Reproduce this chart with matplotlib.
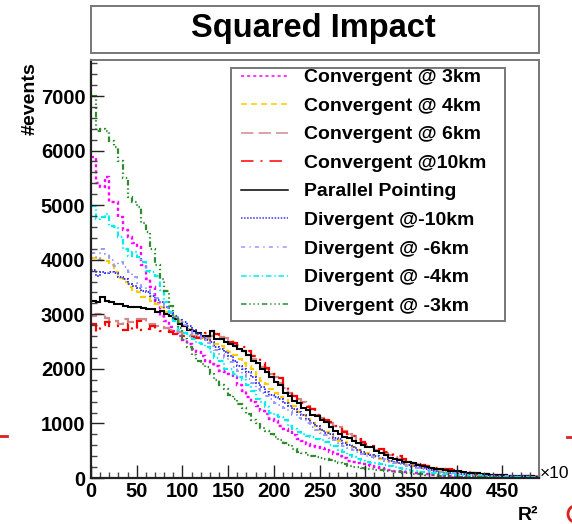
import matplotlib
matplotlib.use("Agg")
import matplotlib.pyplot as plt
import numpy as np
from matplotlib.patches import Rectangle, Arc
from matplotlib.lines import Line2D
from matplotlib.ticker import MultipleLocator

plt.rcParams['font.family'] = ['Liberation Sans', 'DejaVu Sans']
plt.rcParams['font.weight'] = 'bold'
plt.rcParams['lines.scale_dashes'] = False

# binning of R^2 (5 units per bin)
bin_edges = np.arange(0, 491, 5)

labels = ["Convergent @ 3km", "Convergent @ 4km", "Convergent @ 6km",
          "Convergent @10km", "Parallel Pointing", "Divergent @-10km",
          "Divergent @ -6km", "Divergent @ -4km", "Divergent @ -3km"]

conv_3km = [5890, 5400, 5340, 5520, 5060, 5050, 4790, 4550, 4420, 4300,
            4240, 3900, 3650, 3500, 3200, 2960, 2870, 2760, 2700, 2600,
            2520, 2450, 2370, 2300, 2230, 2140, 2090, 2050, 1960, 1940,
            1900, 1850, 1700, 1600, 1480, 1400, 1320, 1230, 1170, 1090,
            1050, 960, 900, 840, 790, 720, 680, 630, 590, 570,
            550, 530, 480, 440, 400, 360, 320, 300, 280, 260,
            240, 220, 200, 180, 165, 150, 135, 125, 115, 105,
            95, 88, 78, 70, 60, 50, 42, 36, 30, 26,
            22, 19, 17, 15, 13, 12, 11, 10, 9, 8,
            8, 7, 6, 6, 5, 5, 4, 4]

conv_4km = [4040, 4050, 4000, 3970, 3900, 3780, 3670, 3600, 3500, 3420,
            3400, 3310, 3300, 3250, 3180, 3130, 3050, 3000, 2900, 2850,
            2790, 2730, 2680, 2620, 2560, 2540, 2490, 2450, 2410, 2330,
            2300, 2250, 2180, 2100, 2050, 1990, 1860, 1780, 1720, 1630,
            1560, 1480, 1430, 1380, 1320, 1210, 1150, 1080, 1000, 950,
            880, 840, 780, 710, 680, 660, 610, 560, 510, 490,
            450, 420, 380, 350, 330, 310, 290, 270, 250, 240,
            225, 210, 185, 165, 145, 130, 120, 110, 100, 90,
            82, 75, 70, 62, 55, 50, 46, 42, 38, 35,
            32, 30, 28, 26, 24, 22, 20, 18]

conv_6km = [2960, 3000, 3000, 2940, 2860, 2870, 2820, 2910, 2850, 2850,
            2910, 2910, 2820, 2820, 2780, 2780, 2750, 2720, 2700, 2680,
            2650, 2620, 2600, 2580, 2560, 2560, 2600, 2600, 2580, 2560,
            2520, 2450, 2380, 2320, 2250, 2180, 2100, 2030, 1990, 1900,
            1860, 1750, 1650, 1560, 1500, 1450, 1400, 1320, 1260, 1150,
            1100, 1080, 1000, 950, 930, 870, 800, 770, 700, 640,
            585, 560, 520, 490, 450, 420, 380, 350, 330, 300,
            260, 250, 230, 210, 190, 170, 165, 150, 140, 125,
            115, 110, 105, 95, 85, 78, 70, 62, 55, 50,
            48, 45, 42, 40, 38, 36, 35, 33]

conv_10km = [2820, 2680, 2800, 2850, 2780, 2780, 2780, 2720, 2820, 2720,
             2870, 2720, 2730, 2780, 2720, 2700, 2690, 2670, 2640, 2630,
             2600, 2580, 2580, 2570, 2560, 2650, 2690, 2640, 2600, 2550,
             2500, 2480, 2430, 2400, 2330, 2230, 2200, 2100, 2020, 1960,
             1900, 1830, 1700, 1580, 1500, 1450, 1380, 1300, 1260, 1150,
             1080, 1060, 1020, 960, 900, 850, 800, 770, 720, 660,
             620, 580, 550, 530, 480, 450, 420, 400, 350, 310,
             280, 260, 240, 220, 200, 190, 180, 170, 165, 150,
             130, 110, 100, 90, 82, 75, 70, 65, 60, 55,
             45, 40, 36, 35, 34, 33, 32, 30]

parallel = [3250, 3230, 3310, 3240, 3220, 3180, 3180, 3160, 3140, 3130,
            3130, 3110, 3090, 3090, 3040, 3060, 3000, 2960, 2910, 2820,
            2790, 2720, 2700, 2650, 2610, 2600, 2690, 2550, 2540, 2500,
            2450, 2420, 2360, 2330, 2250, 2150, 2100, 2000, 1950, 1850,
            1760, 1700, 1560, 1500, 1420, 1380, 1290, 1250, 1160, 1130,
            1060, 1020, 930, 860, 800, 760, 740, 680, 640, 610,
            570, 560, 500, 450, 430, 370, 350, 330, 300, 290,
            270, 230, 220, 210, 180, 165, 160, 150, 135, 130,
            120, 110, 95, 90, 88, 80, 75, 60, 55, 52,
            50, 45, 38, 35, 33, 30, 28, 25]

div_10km = [3820, 3700, 3770, 3760, 3780, 3750, 3690, 3650, 3560, 3510,
            3480, 3420, 3400, 3330, 3270, 3230, 3140, 3030, 2960, 2900,
            2850, 2780, 2720, 2640, 2580, 2520, 2490, 2400, 2360, 2300,
            2230, 2150, 2050, 2000, 1940, 1850, 1750, 1660, 1570, 1530,
            1480, 1440, 1380, 1320, 1260, 1210, 1150, 1080, 1000, 950,
            880, 830, 800, 740, 710, 640, 600, 570, 520, 475,
            440, 420, 400, 370, 340, 310, 290, 275, 260, 240,
            220, 200, 180, 165, 150, 130, 115, 100, 95, 90,
            80, 70, 62, 55, 52, 50, 45, 42, 40, 38,
            36, 35, 33, 32, 30, 28, 26, 24]

div_6km = [4130, 4000, 4190, 4100, 4000, 3880, 3950, 3860, 3770, 3680,
           3580, 3500, 3440, 3380, 3300, 3200, 3120, 3020, 2940, 2880,
           2800, 2730, 2660, 2600, 2540, 2480, 2420, 2350, 2280, 2200,
           2120, 2040, 1960, 1900, 1820, 1740, 1640, 1560, 1500, 1440,
           1380, 1330, 1280, 1220, 1160, 1100, 1060, 1000, 930, 880,
           830, 780, 740, 690, 640, 590, 550, 510, 470, 440,
           410, 380, 360, 340, 310, 290, 270, 250, 235, 220,
           200, 180, 165, 150, 135, 125, 110, 100, 92, 85,
           78, 70, 64, 58, 53, 48, 44, 40, 37, 34,
           31, 29, 27, 25, 23, 21, 20, 18]

div_4km = [4990, 4750, 4780, 4830, 4610, 4600, 4420, 4190, 4060, 4150,
           4050, 3950, 3800, 3770, 3700, 3450, 3220, 3050, 2870, 2720,
           2650, 2600, 2550, 2480, 2450, 2400, 2300, 2200, 2140, 2000,
           1990, 1900, 1860, 1800, 1700, 1590, 1450, 1400, 1300, 1200,
           1150, 1110, 1060, 960, 900, 850, 800, 770, 750, 720,
           690, 660, 600, 580, 520, 475, 430, 380, 345, 320,
           300, 280, 270, 255, 235, 215, 195, 175, 160, 145,
           135, 125, 115, 105, 98, 90, 85, 78, 72, 62,
           55, 50, 45, 40, 37, 34, 30, 27, 24, 22,
           20, 18, 16, 14, 12, 11, 10, 9]

div_3km = [7000, 6350, 6400, 6350, 6180, 6070, 5800, 5500, 5150, 5050,
           4970, 4680, 4500, 4200, 3900, 3650, 3420, 3150, 2950, 2750,
           2550, 2400, 2250, 2150, 2080, 2030, 1900, 1800, 1700, 1640,
           1520, 1440, 1350, 1280, 1180, 1060, 1000, 920, 870, 800,
           750, 690, 640, 600, 540, 480, 450, 420, 400, 380,
           360, 345, 330, 310, 280, 250, 225, 210, 195, 180,
           170, 160, 150, 140, 130, 120, 110, 105, 95, 88,
           80, 72, 65, 58, 52, 46, 40, 35, 30, 27,
           23, 20, 18, 16, 14, 13, 12, 11, 10, 9,
           8, 8, 7, 6, 6, 5, 5, 4]

series = [conv_3km, conv_4km, conv_6km, conv_10km, parallel,
          div_10km, div_6km, div_4km, div_3km]

colors = ["#ff00ff", "#ffcc00", "#d08a8a", "#ff0000", "#000000",
          "#3333ff", "#9999ff", "#00eeee", "#2e8b2e"]
styles = [(0, (2.2, 2.2)), (0, (4.3, 2.9)), (0, (9, 3.6)),
          (0, (9, 5, 1.5, 5)), '-', (0, (1.1, 1.1)),
          (0, (3, 3, 1, 3)), (0, (4, 2, 1, 2)),
          (0, (4, 2, 1, 2, 1, 2, 1, 2))]
widths = [1.7, 1.6, 1.6, 1.6, 1.5, 1.4, 1.4, 1.6, 1.6]

W, H = 572, 524
fig = plt.figure(figsize=(W / 100, H / 100), dpi=100)


def fx(x):
    return x / W


def fy(y):
    return 1 - y / H


# frame in pixel geometry: x 91..539, y 60..478
ax = fig.add_axes([fx(91), fy(478), (539 - 91) / W, (478 - 60) / H])

for vals, c, ls, lw in zip(series, colors, styles, widths):
    ax.stairs(vals, bin_edges, baseline=None, color=c, linestyle=ls,
              linewidth=lw)

ax.set_xlim(0, 490)
ax.set_ylim(0, 7660)
ax.xaxis.set_major_locator(MultipleLocator(50))
ax.xaxis.set_minor_locator(MultipleLocator(10))
ax.yaxis.set_major_locator(MultipleLocator(1000))
ax.yaxis.set_minor_locator(MultipleLocator(200))
ax.set_xticks(np.arange(0, 451, 50))
ax.tick_params(which='major', direction='in', length=9.5, width=1.0,
               color='#222222', labelsize=14.5, pad=3)
ax.tick_params(which='minor', direction='in', length=4.6, width=1.0,
               color='#444444')
ax.tick_params(axis='y', which='major', pad=4)
for lab in ax.get_xticklabels() + ax.get_yticklabels():
    lab.set_fontweight('bold')

for side in ['left', 'bottom']:
    ax.spines[side].set_color('#222222')
    ax.spines[side].set_linewidth(1.6)
for side in ['top', 'right']:
    ax.spines[side].set_color('#777777')
    ax.spines[side].set_linewidth(1.4)

# title box
fig.add_artist(Rectangle((fx(91), fy(53)), (539 - 91) / W, (53 - 6) / H,
                         transform=fig.transFigure, facecolor='white',
                         edgecolor='#777777', linewidth=1.4))
fig.text(fx(313), fy(28.5), "Squared Impact", ha='center', va='center',
         fontsize=23.5, fontweight='bold')

# legend box
fig.add_artist(Rectangle((fx(231), fy(321)), (505 - 231) / W, (321 - 68) / H,
                         transform=fig.transFigure, facecolor='white',
                         edgecolor='#777777', linewidth=1.4, zorder=5))
for i, (lab, c, ls) in enumerate(zip(labels, colors, styles)):
    yc = 75.7 + 28.55 * i
    fig.add_artist(Line2D([fx(241), fx(288)], [fy(yc), fy(yc)],
                          transform=fig.transFigure, color=c, linestyle=ls,
                          linewidth=1.1, zorder=6))
    fig.text(fx(304), fy(yc), lab, ha='left', va='center_baseline',
             fontsize=14, fontweight='bold', zorder=6)

# axis titles
fig.text(fx(30), fy(62), "#events", rotation=90, ha='center', va='top',
         fontsize=14, fontweight='bold')
fig.text(fx(538), fy(515), "R\u00b2", ha='right', va='center',
         fontsize=14, fontweight='bold')
fig.text(fx(540), fy(474), "\u00d710", ha='left', va='center',
         fontsize=12.5, fontweight='normal')

# neighbouring slide edges
fig.add_artist(Line2D([0, fx(7)], [fy(436), fy(436)],
                      transform=fig.transFigure, color='#e02020', lw=2))
fig.add_artist(Line2D([fx(567), 1], [fy(437), fy(437)],
                      transform=fig.transFigure, color='#e02020', lw=2))
fig.add_artist(Arc((fx(575), fy(514)), 14 / W, 16 / H, theta1=95,
                   theta2=265, transform=fig.transFigure,
                   color='#e02020', lw=2))

fig.savefig("out.png", dpi=100)
